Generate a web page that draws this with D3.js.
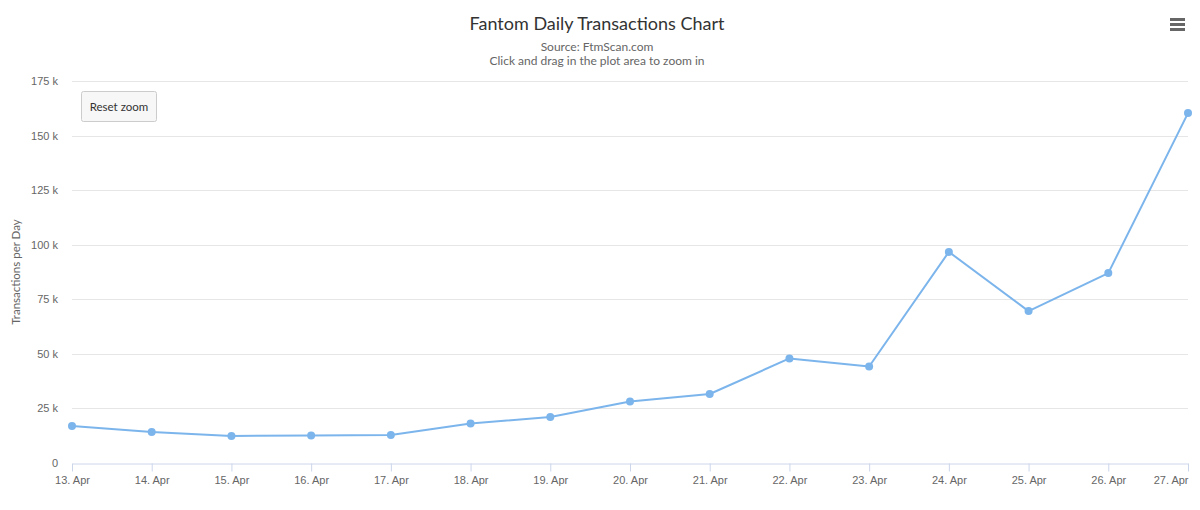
<!DOCTYPE html>
<html>
<head>
<meta charset="utf-8">
<script src="https://cdn.jsdelivr.net/npm/d3@7"></script>
<style>
  html, body { margin: 0; padding: 0; background: #ffffff; }
  svg { display: block; font-family: "Lato", "Open Sans", sans-serif; }
</style>
</head>
<body>
<svg id="chart" width="1200" height="510"></svg>
<script>
const categories = ["13. Apr","14. Apr","15. Apr","16. Apr","17. Apr","18. Apr","19. Apr","20. Apr","21. Apr","22. Apr","23. Apr","24. Apr","25. Apr","26. Apr","27. Apr"];
const transactions = [17000, 14200, 12400, 12600, 12800, 18100, 21100, 28200, 31600, 47900, 44200, 96700, 69600, 87000, 160300];
const yTicks = [0, 25000, 50000, 75000, 100000, 125000, 150000, 175000];
const titleText = "Fantom Daily Transactions Chart";
const subtitleLines = ["Source: FtmScan.com", "Click and drag in the plot area to zoom in"];
const yAxisTitle = "Transactions per Day";

const svg = d3.select("#chart");
const plot = { left: 72, right: 1188, top: 81, bottom: 463 };

const x = d3.scalePoint().domain(categories).range([plot.left, plot.right]).padding(0);
const y = d3.scaleLinear().domain([0, 175000]).range([plot.bottom, plot.top]);

// gridlines
svg.append("g").selectAll("line").data(yTicks.filter(d => d > 0)).join("line")
  .attr("x1", plot.left).attr("x2", plot.right)
  .attr("y1", d => Math.round(y(d)) + 0.5).attr("y2", d => Math.round(y(d)) + 0.5)
  .attr("stroke", "#e6e6e6").attr("stroke-width", 1);

// y axis labels
const yAxis = d3.axisLeft(y).tickValues(yTicks).tickSize(0).tickPadding(0)
  .tickFormat(d => d === 0 ? "0" : (d / 1000) + " k");
const yg = svg.append("g").attr("transform", `translate(${plot.left - 14},0)`).call(yAxis);
yg.select(".domain").remove();
yg.selectAll("text").attr("fill", "#666666").attr("font-size", "11px").attr("dy", "0.32em");

// y axis title
svg.append("text")
  .attr("transform", `translate(20,${(plot.top + plot.bottom) / 2}) rotate(-90)`)
  .attr("text-anchor", "middle").attr("fill", "#666666").attr("font-size", "11.5px")
  .text(yAxisTitle);

// x axis
const xAxis = d3.axisBottom(x).tickSizeInner(8).tickSizeOuter(0).tickPadding(5);
const xg = svg.append("g").attr("transform", `translate(0,${plot.bottom + 0.5})`).call(xAxis);
xg.select(".domain").attr("stroke", "#ccd6eb");
xg.selectAll(".tick line").attr("stroke", "#ccd6eb");
xg.selectAll("text").attr("fill", "#666666").attr("font-size", "11px");
xg.selectAll(".tick").filter((d, i) => i === categories.length - 1)
  .select("text").attr("text-anchor", "end");

// line
const line = d3.line().x((d, i) => x(categories[i])).y(d => y(d));
svg.append("path").datum(transactions)
  .attr("d", line).attr("fill", "none").attr("stroke", "#7cb5ec").attr("stroke-width", 2)
  .attr("stroke-linejoin", "round");

svg.append("g").selectAll("circle").data(transactions).join("circle")
  .attr("cx", (d, i) => x(categories[i])).attr("cy", d => y(d)).attr("r", 4)
  .attr("fill", "#7cb5ec");

// title
svg.append("text").attr("x", 597).attr("y", 30).attr("text-anchor", "middle")
  .attr("fill", "#333333").attr("font-size", "18px").text(titleText);
svg.append("g").selectAll("text").data(subtitleLines).join("text")
  .attr("x", 597).attr("y", (d, i) => 51 + i * 14).attr("text-anchor", "middle")
  .attr("fill", "#666666").attr("font-size", "12px").text(d => d);

// reset zoom button
const btn = svg.append("g").attr("transform", "translate(81.5,91.5)");
btn.append("rect").attr("width", 75).attr("height", 30).attr("rx", 2)
  .attr("fill", "#f7f7f7").attr("stroke", "#cccccc").attr("stroke-width", 1);
btn.append("text").attr("x", 37.5).attr("y", 19).attr("text-anchor", "middle")
  .attr("fill", "#333333").attr("font-size", "11.5px").text("Reset zoom");

// menu icon
svg.append("g").selectAll("line").data([19.5, 24.5, 29.5]).join("line")
  .attr("x1", 1170).attr("x2", 1185).attr("y1", d => d).attr("y2", d => d)
  .attr("stroke", "#666666").attr("stroke-width", 3);
</script>
</body>
</html>
